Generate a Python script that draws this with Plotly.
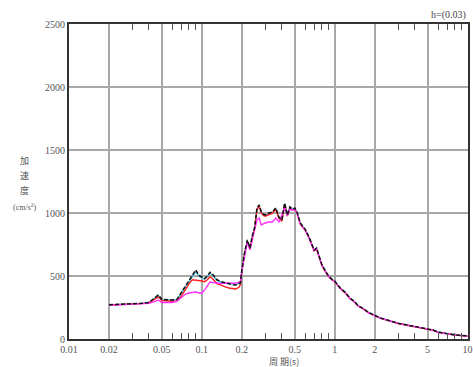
import plotly.graph_objects as go

periods = [0.02, 0.025, 0.03, 0.035, 0.04, 0.045, 0.047, 0.05, 0.055, 0.06,
           0.065, 0.07, 0.075, 0.08, 0.085, 0.09, 0.095, 0.1, 0.105, 0.11,
           0.115, 0.12, 0.13, 0.14, 0.15, 0.16, 0.17, 0.18, 0.19, 0.195,
           0.2, 0.21, 0.22, 0.23, 0.24, 0.25, 0.26, 0.27, 0.28, 0.29,
           0.3, 0.32, 0.34, 0.36, 0.38, 0.4, 0.42, 0.44, 0.46, 0.48,
           0.5, 0.52, 0.55, 0.58, 0.6, 0.64, 0.68, 0.7, 0.73, 0.77,
           0.8, 0.85, 0.9, 0.95, 1.0, 1.1, 1.2, 1.3, 1.4, 1.5,
           1.65, 1.8, 2.0, 2.2, 2.5, 2.8, 3.0, 3.5, 4.0, 4.5,
           5.0, 5.5, 6.0, 6.5, 7.0, 8.0, 9.0, 10.0]

black_vals = [272, 275, 278, 283, 290, 330, 350, 315, 312, 310,
              315, 370, 420, 470, 510, 548, 505, 492, 480, 500,
              530, 516, 470, 455, 445, 440, 432, 428, 440, 445,
              548, 690, 786, 722, 820, 889, 1040, 1064, 1010, 990,
              984, 1000, 1008, 1040, 968, 944, 1079, 984, 1048, 1030,
              1040, 1008, 921, 889, 870, 810, 730, 706, 722, 643,
              590, 540, 500, 475, 460, 405, 370, 325, 300, 265,
              240, 210, 185, 167, 150, 135, 125, 111, 100, 93,
              80, 71, 55, 48, 42, 32, 28, 24]

red_vals = [270, 273, 276, 281, 287, 320, 335, 305, 300, 300,
            302, 340, 390, 440, 470, 468, 462, 460, 455, 470,
            492, 480, 440, 425, 413, 405, 400, 397, 410, 430,
            540, 680, 775, 712, 810, 878, 1030, 1052, 1000, 980,
            975, 990, 998, 1030, 958, 935, 1068, 975, 1038, 1022,
            1030, 1000, 912, 880, 862, 802, 722, 700, 714, 636,
            584, 535, 495, 470, 455, 400, 366, 321, 296, 262,
            237, 207, 182, 165, 148, 133, 123, 109, 98, 91,
            78, 69, 53, 47, 41, 31, 27, 23]

magenta_vals = [268, 271, 274, 278, 283, 300, 310, 290, 288, 290,
                300, 330, 355, 365, 368, 373, 365, 365, 390, 420,
                452, 448, 444, 440, 444, 440, 442, 444, 450, 455,
                540, 675, 770, 708, 800, 870, 944, 960, 905, 915,
                921, 929, 929, 960, 929, 984, 1040, 980, 1030, 1024,
                1030, 1000, 915, 882, 865, 805, 725, 702, 716, 638,
                586, 536, 496, 472, 456, 402, 367, 322, 297, 263,
                238, 208, 183, 166, 149, 134, 124, 110, 99, 92,
                79, 70, 54, 47, 41, 31, 27, 23]

cyan_vals = [271, 274, 277, 282, 289, 328, 346, 312, 310, 308,
             313, 365, 415, 462, 500, 535, 498, 485, 475, 495,
             522, 508, 465, 452, 448, 446, 438, 432, 442, 447,
             545, 686, 780, 718, 815, 884, 1035, 1058, 1005, 985,
             980, 996, 1004, 1035, 964, 940, 1074, 980, 1044, 1027,
             1036, 1004, 918, 886, 867, 807, 727, 704, 719, 641,
             588, 538, 498, 473, 458, 404, 368, 323, 298, 264,
             239, 209, 184, 166, 149, 134, 124, 110, 99, 92,
             79, 70, 54, 48, 42, 32, 28, 24]

x_tickvals = [0.01, 0.02, 0.05, 0.1, 0.2, 0.5, 1, 2, 5, 10]
x_ticktext = ["0.01", "0.02", "0.05", "0.1", "0.2", "0.5", "1", "2", "5", "10"]
x_minor = [0.03, 0.04, 0.06, 0.07, 0.08, 0.09, 0.3, 0.4, 0.6, 0.7, 0.8, 0.9,
           3, 4, 6, 7, 8, 9]
y_tickvals = [0, 500, 1000, 1500, 2000, 2500]
y_label_lines = ["加", "速", "度", "(cm/s<sup>2</sup>)"]

SERIF = "Liberation Serif, Times New Roman, serif"

fig = go.Figure()
fig.add_trace(go.Scatter(x=periods, y=cyan_vals, mode="lines",
                         line=dict(color="#40b8d8", width=1.3), showlegend=False))
fig.add_trace(go.Scatter(x=periods, y=red_vals, mode="lines",
                         line=dict(color="#ff2020", width=1.4), showlegend=False))
fig.add_trace(go.Scatter(x=periods, y=magenta_vals, mode="lines",
                         line=dict(color="#ff30ff", width=1.4), showlegend=False))
fig.add_trace(go.Scatter(x=periods, y=black_vals, mode="lines",
                         line=dict(color="#111111", width=1.5, dash="4px,2px"),
                         showlegend=False))

annotations = [
    dict(text="h=(0.03)", xref="paper", yref="paper", x=1, y=1,
         xanchor="right", yanchor="bottom", showarrow=False, yshift=1,
         font=dict(family=SERIF, size=10, color="#444444")),
    dict(text="周 期(s)", xref="paper", yref="paper", x=0.54, y=0,
         xanchor="center", yanchor="top", showarrow=False, yshift=-14,
         font=dict(family="Noto Sans CJK JP", size=9, color="#555555")),
]
label_y = [160, 175, 190, 207]
for txt, py in zip(y_label_lines, label_y):
    annotations.append(dict(
        text=txt, xref="paper", yref="paper",
        x=(24 - 69) / 404, y=(339 - py) / 315,
        xanchor="center", yanchor="middle", showarrow=False,
        font=dict(family=SERIF if txt.startswith("(") else "Noto Sans CJK JP",
                  size=8 if txt.startswith("(") else 9, color="#555555")))

fig.update_layout(
    width=473, height=367,
    margin=dict(l=69, r=0, t=24, b=28),
    paper_bgcolor="white", plot_bgcolor="white",
    font=dict(family=SERIF, size=10, color="#555555"),
    xaxis=dict(type="log", range=[-2, 1.003], tickvals=x_tickvals, ticktext=x_ticktext,
               showgrid=True, gridcolor="#a8a8a8", gridwidth=1.5,
               showline=True, linecolor="#333333", linewidth=2, mirror="allticks",
               ticks="", zeroline=False, ticklabeloverflow="allow",
               minor=dict(tickvals=x_minor, ticks="inside", ticklen=6,
                          tickcolor="#555555", tickwidth=1, showgrid=False)),
    yaxis=dict(range=[0, 2500], tickvals=y_tickvals,
               showgrid=True, gridcolor="#a8a8a8", gridwidth=1.5,
               showline=True, linecolor="#333333", linewidth=2, mirror=True,
               ticks="", zeroline=False),
    annotations=annotations,
)

fig.write_html("out.html", config={"displayModeBar": False},
               post_script="document.body.style.margin='0px';document.body.style.overflow='hidden';")
